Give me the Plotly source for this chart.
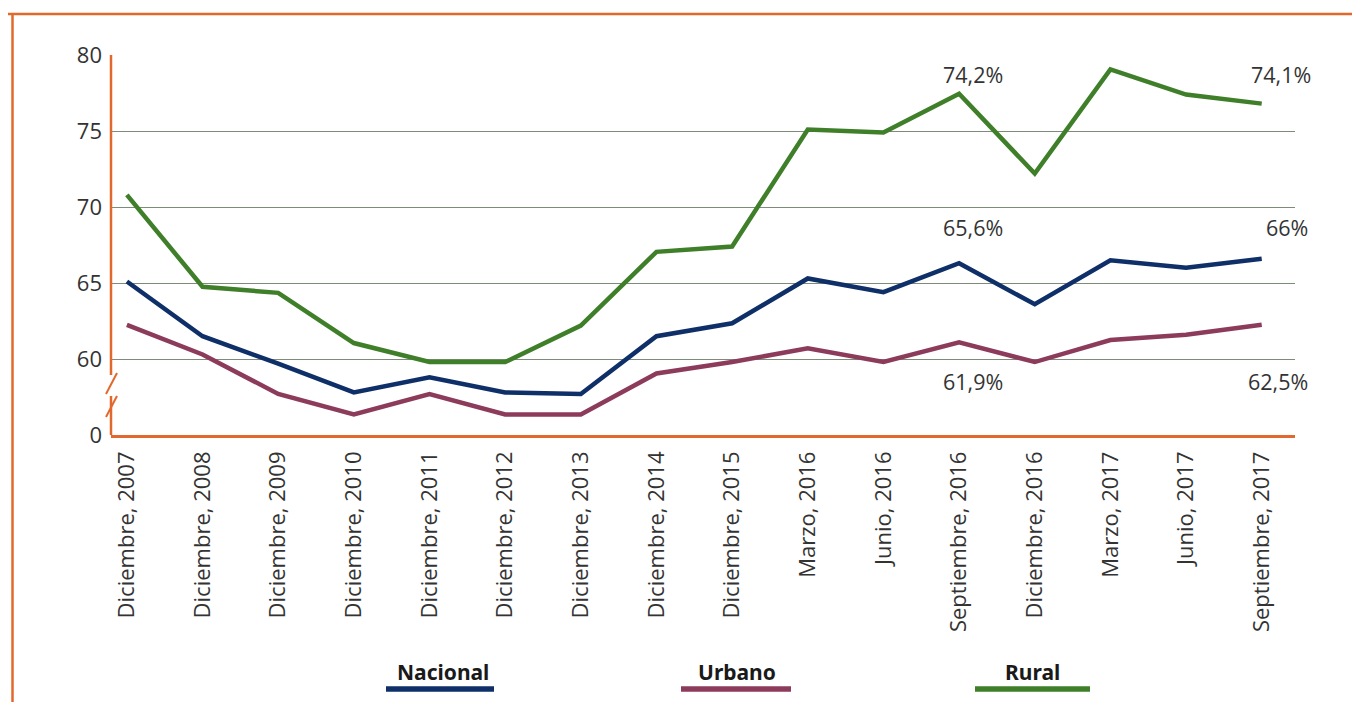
import plotly.graph_objects as go

categories = ["Diciembre, 2007", "Diciembre, 2008", "Diciembre, 2009", "Diciembre, 2010",
              "Diciembre, 2011", "Diciembre, 2012", "Diciembre, 2013", "Diciembre, 2014",
              "Diciembre, 2015", "Marzo, 2016", "Junio, 2016", "Septiembre, 2016",
              "Diciembre, 2016", "Marzo, 2017", "Junio, 2017", "Septiembre, 2017"]

nacional = [65.1, 61.5, 59.7, 57.8, 58.8, 57.8, 57.7, 61.5, 62.35, 65.3, 64.4, 66.3,
            63.6, 66.5, 66.0, 66.6]
urbano = [62.25, 60.3, 57.7, 56.35, 57.7, 56.35, 56.35, 59.05, 59.8, 60.7, 59.8, 61.1,
          59.8, 61.25, 61.6, 62.25]
rural = [70.8, 64.75, 64.35, 61.05, 59.8, 59.8, 62.2, 67.05, 67.4, 75.1, 74.9, 77.45,
         72.2, 79.05, 77.4, 76.8]

series_names = ["Nacional", "Urbano", "Rural"]
series_colors = ["#0e2f68", "#8c3b5b", "#3f7f29"]

# y-axis: broken axis, lowest position labelled "0"
y_tickvals = [55, 60, 65, 70, 75, 80]
y_ticktext = ["0", "60", "65", "70", "75", "80"]

label_texts = ["74,2%", "74,1%", "65,6%", "66%", "61,9%", "62,5%"]

ORANGE = "#e2692d"
GRID = "#7d8c78"
TXT = "#333333"
FONT = "Open Sans"

x_idx = list(range(len(categories)))

fig = go.Figure()
for name, vals, col in zip(series_names, [nacional, urbano, rural], series_colors):
    fig.add_trace(go.Scatter(x=x_idx, y=vals, mode="lines", name=name,
                             line=dict(color=col, width=4.5), showlegend=False))

# page offset (browser body margin) and plot-area geometry in page pixels
OFF = 8
FW, FH = 1360 - OFF, 702 - OFF
L, R, T, B = 111, 1295, 55, 435
W, H = R - L, B - T


def px(x):
    return (x - L) / W


def py(y):
    return (B - y) / H


shapes = []
# outer orange frame (top and left)
shapes.append(dict(type="line", xref="paper", yref="paper", x0=px(8), x1=px(1362),
                   y0=py(14), y1=py(14), line=dict(color=ORANGE, width=2.5)))
shapes.append(dict(type="line", xref="paper", yref="paper", x0=px(12.5), x1=px(12.5),
                   y0=py(13), y1=py(704), line=dict(color=ORANGE, width=2.5)))
# y axis line with a break
shapes.append(dict(type="line", xref="paper", yref="paper", x0=0, x1=0,
                   y0=1.0, y1=py(375), line=dict(color=ORANGE, width=2.5)))
shapes.append(dict(type="line", xref="paper", yref="paper", x0=0, x1=0,
                   y0=py(396), y1=0, line=dict(color=ORANGE, width=2.5)))
# break slashes
shapes.append(dict(type="line", xref="paper", yref="paper", x0=px(106), x1=px(117),
                   y0=py(394), y1=py(373), line=dict(color=ORANGE, width=2)))
shapes.append(dict(type="line", xref="paper", yref="paper", x0=px(106), x1=px(117),
                   y0=py(417), y1=py(396), line=dict(color=ORANGE, width=2)))

annotations = []
# custom legend: bold name above coloured bar
legend_pos = [(386, 494, 443), (681, 791, 737), (975, 1090, 1032)]
for name, col, (xa, xb, xc) in zip(series_names, series_colors, legend_pos):
    shapes.append(dict(type="line", xref="paper", yref="paper", x0=px(xa), x1=px(xb),
                       y0=py(689), y1=py(689), line=dict(color=col, width=5.5)))
    annotations.append(dict(xref="paper", yref="paper", x=px(xc), y=py(672),
                            text="<b>" + name + "</b>", showarrow=False,
                            xanchor="center", yanchor="middle",
                            font=dict(family="Noto Sans", size=21, color="#1a1a1a")))

# value labels
label_pos = [(11.18, 78.75), (15.25, 78.75),
             (11.18, 68.68), (15.34, 68.68),
             (11.18, 58.5), (15.22, 58.5)]
for txt, (xv, yv) in zip(label_texts, label_pos):
    annotations.append(dict(xref="x", yref="y", x=xv, y=yv, text=txt, showarrow=False,
                            xanchor="center", yanchor="middle",
                            font=dict(family=FONT, size=21.5, color=TXT)))

fig.update_layout(
    width=FW, height=FH,
    margin=dict(l=L - OFF, r=1360 - R, t=T - OFF, b=702 - B),
    paper_bgcolor="white", plot_bgcolor="white",
    showlegend=False,
    shapes=shapes, annotations=annotations,
    font=dict(family=FONT, color=TXT),
    xaxis=dict(range=[-0.21, 15.44], tickmode="array", tickvals=x_idx, ticktext=categories,
               tickangle=-90, showgrid=False, zeroline=False,
               showline=True, linecolor=ORANGE, linewidth=2.5,
               ticks="", ticklabelstandoff=5,
               tickfont=dict(family=FONT, size=22, color=TXT)),
    yaxis=dict(range=[55, 80], tickmode="array", tickvals=y_tickvals, ticktext=y_ticktext,
               showgrid=True, gridcolor=GRID, gridwidth=1.4, zeroline=False,
               showline=False, ticks="", ticklabelstandoff=8,
               tickfont=dict(family=FONT, size=22, color=TXT)),
)

fig.write_html("out.html")
